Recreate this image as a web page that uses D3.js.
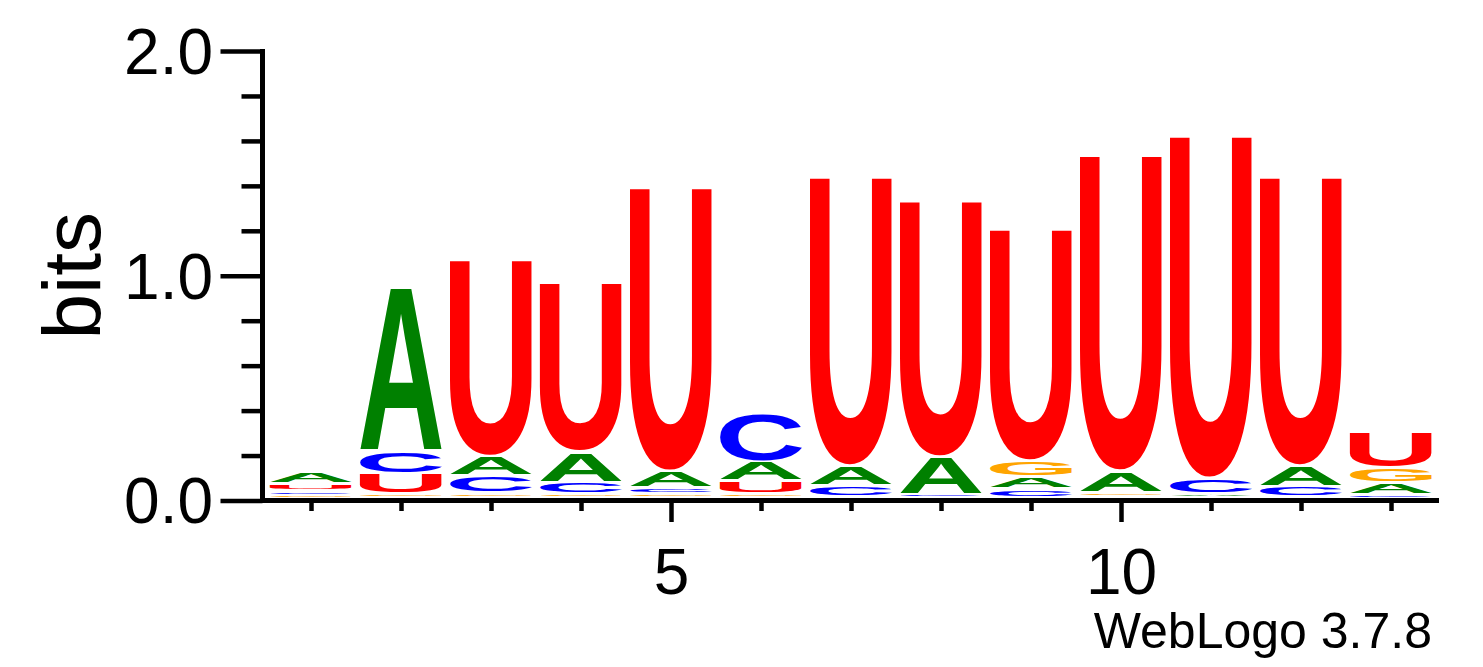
<!DOCTYPE html>
<html><head><meta charset="utf-8">
<script src="https://cdn.jsdelivr.net/npm/d3@7"></script>
<style>body{margin:0;background:#fff;} svg{display:block;background:#fff}</style>
</head><body>
<svg id="chart" width="1483" height="667"></svg>
<script>
// ---- data ----
const positions = [1,2,3,4,5,6,7,8,9,10,11,12,13];
const letters = ["A","C","G","U"];
const valuesA = [0.050,0.731,0.085,0.133,0.074,0.085,0.090,0.168,0.054,0.095,0.015,0.093,0.055];
const valuesC = [0.020,0.098,0.078,0.052,0.025,0.220,0.047,0.010,0.038,0.003,0.068,0.045,0.012];
const valuesG = [0.010,0.015,0.020,0.016,0.018,0.018,0.004,0.003,0.071,0.020,0.003,0.003,0.064];
const valuesU = [0.031,0.092,0.877,0.755,1.265,0.056,1.288,1.141,1.034,1.408,1.526,1.288,0.161];
const letterColors = {A:"#008000", C:"#0000FF", G:"#FFA500", U:"#FF0000"};
const yMajorTicks = [0, 1, 2];
const yTickLabels = ["0.0", "1.0", "2.0"];
const xMajorTicks = [5, 10];
const yAxisTitle = "bits";
const finePrint = "WebLogo 3.7.8";

// ---- layout ----
const svg = d3.select("#chart");
const x = d3.scaleLinear().domain([0.5, 13.5]).range([266, 1436]);
const y = d3.scaleLinear().domain([0, 2]).range([500.5, 51]);
const FONT = "'Liberation Sans', Arial, Helvetica, sans-serif";
const valueMap = {A: valuesA, C: valuesC, G: valuesG, U: valuesU};

// measure glyph ink boxes
const cv = document.createElement("canvas").getContext("2d");
const GS = 200;
cv.font = `bold ${GS}px 'Liberation Sans'`;
const ink = {};
letters.forEach(L => {
  const m = cv.measureText(L);
  ink[L] = {l: m.actualBoundingBoxLeft, r: m.actualBoundingBoxRight,
            a: m.actualBoundingBoxAscent, d: m.actualBoundingBoxDescent};
});

// ---- stacks ----
const glyphW = 82;
const baseY = y(0) - 3;
const pxPerBit = y(0) - y(1);
const gLogo = svg.append("g");
positions.forEach((p, i) => {
  const stack = letters.map(L => ({L, v: valueMap[L][i]})).sort((a, b) => a.v - b.v);
  let cur = baseY;
  stack.forEach(s => {
    const h = s.v * pxPerBit;
    const boxTop = cur - h;
    const gh = h > 4.5 ? h - 3 : h * 0.35;
    cur = boxTop;
    if (gh < 0.5) return; // invisible sliver
    const gTop = boxTop + (h - gh) / 2;
    const k = ink[s.L];
    const iw = k.l + k.r, ih = k.a + k.d;
    const xl = x(p) - glyphW / 2;
    gLogo.append("text")
      .attr("font-family", FONT).attr("font-weight", "bold")
      .attr("font-size", GS)
      .attr("fill", letterColors[s.L])
      .attr("transform", `translate(${xl},${gTop}) scale(${glyphW / iw},${gh / ih}) translate(${k.l},${k.a})`)
      .text(s.L);
  });
});

// ---- y axis ----
const yTicksAll = d3.range(0, 2.001, 0.2).map(v => +v.toFixed(1));
const yAxis = d3.axisLeft(y).tickValues(yTicksAll).tickSize(21)
  .tickFormat(d => { const j = yMajorTicks.indexOf(d); return j >= 0 ? yTickLabels[j] : ""; });
const gy = svg.append("g").attr("transform", "translate(262.5,0)").call(yAxis);
gy.select(".domain").remove();
gy.selectAll(".tick line").attr("stroke", "#000").attr("stroke-width", 4.5)
  .attr("x2", d => yMajorTicks.includes(d) ? -42 : -21);
gy.selectAll(".tick text").filter(d => !yMajorTicks.includes(d)).remove();
gy.selectAll(".tick text").attr("font-family", FONT).attr("font-size", 64)
  .attr("fill", "#000").attr("x", -49.5).attr("dy", "0.35em");
svg.append("line").attr("x1", 262.5).attr("x2", 262.5).attr("y1", y(2) - 2).attr("y2", y(0) + 2.5)
  .attr("stroke", "#000").attr("stroke-width", 5);

// ---- x axis ----
const xAxis = d3.axisBottom(x).tickValues(positions).tickSize(10)
  .tickFormat(d => xMajorTicks.includes(d) ? String(d) : "");
const gx = svg.append("g").attr("transform", `translate(0,${y(0)})`).call(xAxis);
gx.select(".domain").remove();
gx.selectAll(".tick line").attr("stroke", "#000").attr("stroke-width", 4.5)
  .attr("y2", d => xMajorTicks.includes(d) ? 21.5 : 10.5);
gx.selectAll(".tick text").filter(d => !xMajorTicks.includes(d)).remove();
gx.selectAll(".tick text").attr("font-family", FONT).attr("font-size", 64)
  .attr("fill", "#000").attr("y", 93).attr("dy", 0);
svg.append("line").attr("x1", 260).attr("x2", 1439).attr("y1", y(0)).attr("y2", y(0))
  .attr("stroke", "#000").attr("stroke-width", 5);

// ---- titles ----
svg.append("text").attr("font-family", FONT).attr("font-size", 82).attr("fill", "#000")
  .attr("text-anchor", "middle")
  .attr("transform", `translate(100,${(y(0) + y(2)) / 2}) rotate(-90)`)
  .text(yAxisTitle);
svg.append("text").attr("font-family", FONT).attr("font-size", 50).attr("fill", "#000")
  .attr("text-anchor", "end").attr("x", 1432).attr("y", 648)
  .text(finePrint);
</script>
</body></html>
